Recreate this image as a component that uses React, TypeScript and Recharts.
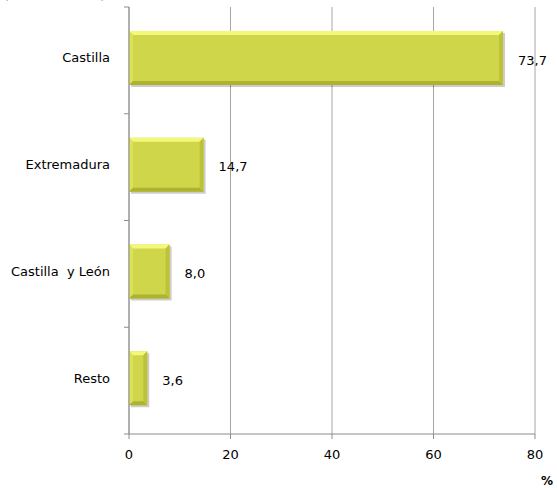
import React from 'react';
import { BarChart, Bar, XAxis, YAxis, CartesianGrid, LabelList } from 'recharts';

const categories = ['Castilla', 'Extremadura', 'Castilla\u00a0\u00a0y León', 'Resto'];
const values = [73.7, 14.7, 8.0, 3.6];
const xTicks = [0, 20, 40, 60, 80];

const data = categories.map((c, i) => ({ name: c, value: values[i] }));

const W = 557;
const H = 488;
const X_H = 30;
const M = { top: 7, right: 22, bottom: 54 - X_H, left: 9 };
const Y_W = 120;
const PLOT_H = H - M.top - 54;
const BAND = PLOT_H / categories.length;
const FONT = 'DejaVu Sans, sans-serif';

const BevelBar = (props: any) => {
  const { x, y: y0, width, height } = props;
  if (width <= 0) return null;
  const y = y0 - 2;
  const b = Math.min(4, width / 3);
  return (
    <g>
      <rect x={x + 2} y={y + 2} width={width} height={height} fill="#000" opacity={0.2} />
      <rect x={x} y={y} width={width} height={height} fill="#cfd64a" />
      <polygon points={`${x},${y} ${x + width},${y} ${x + width - b},${y + b} ${x + b},${y + b}`} fill="#f3f77a" />
      <polygon points={`${x},${y} ${x + b},${y + b} ${x + b},${y + height - b} ${x},${y + height}`} fill="#dbe158" />
      <polygon points={`${x + width},${y} ${x + width},${y + height} ${x + width - b},${y + height - b} ${x + width - b},${y + b}`} fill="#bcc33a" />
      <polygon points={`${x},${y + height} ${x + b},${y + height - b} ${x + width - b},${y + height - b} ${x + width},${y + height}`} fill="#adb32f" />
    </g>
  );
};

const YTick = (props: any) => {
  const { x, y, payload, index } = props;
  const axisX = x + 8;
  return (
    <g>
      <text x={axisX - 19} y={y} dy={2} textAnchor="end" fontFamily={FONT} fontSize={13} fill="#000">
        {payload.value}
      </text>
      <line x1={axisX - 5} x2={axisX} y1={y - BAND / 2} y2={y - BAND / 2} stroke="#8c8c8c" />
      {index === categories.length - 1 && (
        <line x1={axisX - 5} x2={axisX} y1={y + BAND / 2} y2={y + BAND / 2} stroke="#8c8c8c" />
      )}
    </g>
  );
};

export default function App() {
  return (
    <div style={{ position: 'absolute', left: 0, top: 0, width: W, height: H, background: '#fff' }}>
      <BarChart width={W} height={H} data={data} layout="vertical" margin={M} barSize={54}>
        <text x={3} y={-2} fontFamily={FONT} fontSize={16} fill="#5a4fc0">(</text>
        <text x={100} y={-2} fontFamily={FONT} fontSize={16} fill="#5a4fc0">)</text>
        <CartesianGrid horizontal={false} stroke="#a6a6a6" />
        <XAxis
          type="number"
          domain={[0, 80]}
          ticks={xTicks}
          interval={0}
          height={X_H}
          stroke="#8c8c8c"
          tickSize={5}
          tick={{ fontFamily: FONT, fontSize: 13, fill: '#000' }}
          tickMargin={11}
        />
        <YAxis
          type="category"
          dataKey="name"
          width={Y_W}
          stroke="#8c8c8c"
          tickLine={false}
          tick={<YTick />}
          interval={0}
        />
        <Bar dataKey="value" shape={<BevelBar />} isAnimationActive={false}>
          <LabelList
            dataKey="value"
            position="right"
            offset={15}
            formatter={(v: any) => Number(v).toFixed(1).replace('.', ',')}
            style={{ fontFamily: FONT, fontSize: 13, fill: '#000' }}
          />
        </Bar>
        <text x={541} y={485} fontFamily={FONT} fontSize={12} fontWeight="bold" fill="#000">%</text>
      </BarChart>
    </div>
  );
}
